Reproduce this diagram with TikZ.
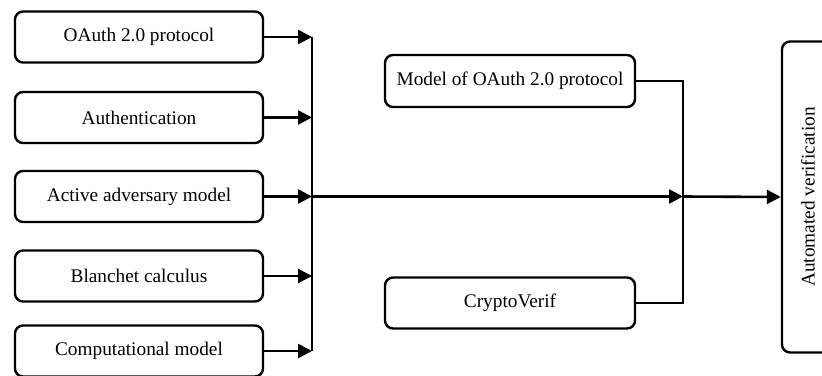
\documentclass[tikz,border=0pt]{standalone}
\usepackage{fontspec}
\setmainfont{Liberation Serif}
\usetikzlibrary{arrows.meta}
\begin{document}
\begin{tikzpicture}[x=1pt,y=-1pt,
  box/.style={draw,line width=2.4pt,rounded corners=8pt,minimum width=248pt,minimum height=51pt,inner sep=0pt,font=\fontsize{19.3}{21}\selectfont},
  ln/.style={line width=2.6pt},
  arr/.style={ln,-{Triangle[length=14pt,width=14pt]}}]
\useasboundingbox (0,0) rectangle (822,375);
\clip (0,0) rectangle (822,375);
\node[box] (b1) at (139,37) {OAuth 2.0 protocol};
\node[box] (b2) at (139,117.5) {Authentication};
\node[box] (b3) at (139,196.5) {Active adversary model};
\node[box] (b4) at (139,276) {Blanchet calculus};
\node[box] (b5) at (139,351) {Computational model};
\coordinate (busx) at (312,0);
\coordinate (rbus) at (683,0);
\foreach \n in {b1,b2,b3,b4,b5}{
  \draw[arr] (\n.east) -- (\n.east -| busx);
}
\draw[ln] (b1.east -| busx) -- (b5.east -| busx);
\draw[arr] (b3.east -| busx) -- (b3.east -| rbus);
\node[box,minimum width=250pt,minimum height=52pt] (m1) at (510,81) {Model of OAuth 2.0 protocol};
\node[box,minimum width=250pt,minimum height=51pt] (m2) at (510,303) {CryptoVerif};
\draw[ln] (m1.east) -- (m1.east -| rbus) -- (m2.east -| rbus) -- (m2.east);
\node[box,minimum width=62pt,minimum height=311pt] (av) at (813,197) {};
\node[rotate=90,font=\fontsize{19.3}{21}\selectfont] (avt) at (808,197) {Automated verification};
\draw[arr] (b3.east -| rbus) -- (av.west);
\end{tikzpicture}
\end{document}
